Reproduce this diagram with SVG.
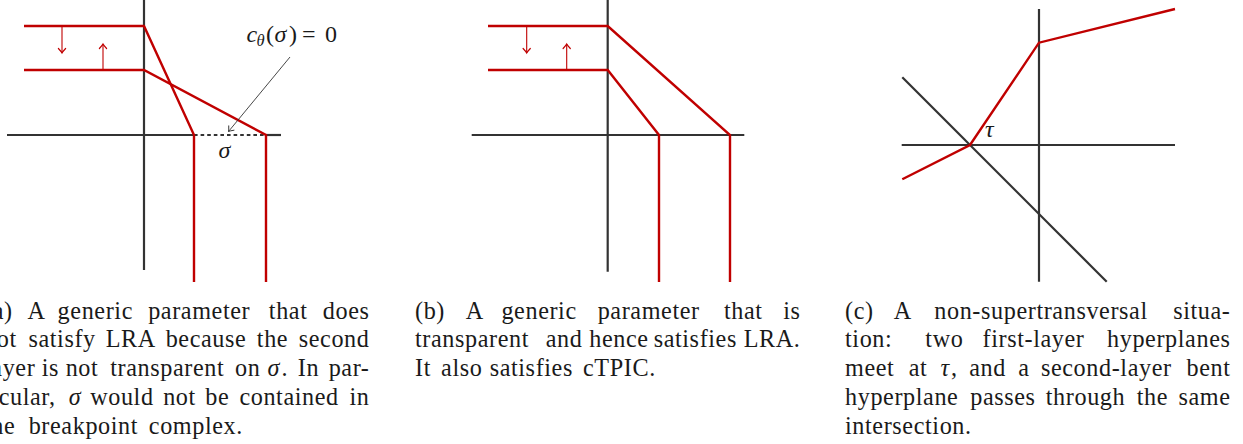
<svg xmlns="http://www.w3.org/2000/svg" width="1243" height="444" viewBox="0 0 1243 444">
<style>
.ax{stroke:#333;stroke-width:2.2;fill:none}
.rd{stroke:#c00000;stroke-width:2.4;fill:none;stroke-linejoin:miter}
.ra{stroke:#c00000;stroke-width:1.1;fill:none}
.cap{font-size:24.2px;letter-spacing:0.6px;fill:#1a1a1a}
.m{font-size:24px;fill:#1a1a1a}
.i{font-style:italic}
.c{text-anchor:middle}
.e{text-anchor:end}
</style>
<defs>
<marker id="hr" markerUnits="userSpaceOnUse" markerWidth="12" markerHeight="12" refX="0" refY="0" viewBox="-6 -6 12 12" orient="auto" overflow="visible">
<path d="M -4.5,-3.6 Q -1.6,-0.9 0,0 Q -1.6,0.9 -4.5,3.6" stroke="#c00000" stroke-width="1.2" fill="none" stroke-linecap="round"/>
</marker>
<marker id="hk" markerUnits="userSpaceOnUse" markerWidth="12" markerHeight="12" refX="0" refY="0" viewBox="-6 -6 12 12" orient="auto" overflow="visible">
<path d="M -4.5,-3.4 Q -1.6,-0.8 0,0 Q -1.6,0.8 -4.5,3.4" stroke="#333" stroke-width="0.9" fill="none" stroke-linecap="round"/>
</marker>
</defs>

<g font-family="Liberation Serif, DejaVu Serif, serif">
<g id="panel-a">
<line class="ax" x1="144" y1="0" x2="144" y2="270"/>
<line class="ax" x1="7" y1="135" x2="194" y2="135"/>
<line class="ax" x1="266" y1="135" x2="281" y2="135"/>
<line x1="194" y1="135" x2="266" y2="135" stroke="#333" stroke-width="2.2" stroke-dasharray="3.6 3"/>
<polyline class="rd" points="24,26 144,26 194,135 194,282"/>
<polyline class="rd" points="24,70 144,70 266,135 266,282"/>
<line class="ra" x1="62" y1="26" x2="62" y2="53" marker-end="url(#hr)"/>
<line class="ra" x1="103" y1="70" x2="103" y2="44" marker-end="url(#hr)"/>
<line x1="290" y1="57" x2="228.5" y2="131.5" stroke="#333" stroke-width="0.9" marker-end="url(#hk)"/>
<text class="m" y="42"><tspan class="i" x="246.5">c</tspan><tspan class="i" x="256.5" y="46" font-size="16.5">θ</tspan><tspan x="266" y="42">(</tspan><tspan class="i" x="274.5">σ</tspan><tspan x="289">)</tspan><tspan x="302">=</tspan><tspan x="325">0</tspan></text>
<text class="m i" x="218.5" y="158">σ</text>
</g>

<g id="panel-b">
<line class="ax" x1="607.7" y1="0" x2="607.7" y2="271.7"/>
<line class="ax" x1="471.7" y1="135" x2="744.3" y2="135"/>
<polyline class="rd" points="488,26 607.7,26 730,135 730,282"/>
<polyline class="rd" points="488,70 607.7,70 659,135 659,282"/>
<line class="ra" x1="526.7" y1="26" x2="526.7" y2="53" marker-end="url(#hr)"/>
<line class="ra" x1="566.7" y1="70" x2="566.7" y2="44" marker-end="url(#hr)"/>
</g>

<g id="panel-c">
<line class="ax" x1="1039" y1="9" x2="1039" y2="281.7"/>
<line class="ax" x1="901.7" y1="145" x2="1175" y2="145"/>
<line class="ax" x1="902.3" y1="77.3" x2="1106.7" y2="281.7"/>
<polyline class="rd" points="902.3,179.3 970,145 1039,42.7 1175,9"/>
<text class="m i" x="985" y="137">τ</text>
</g>

<g id="caption-a">
<text class="cap" y="318.5"><tspan x="-16">(a)</tspan><tspan class="c" x="36.6">A</tspan><tspan class="c" x="95.3">generic</tspan><tspan class="c" x="199.2">parameter</tspan><tspan class="c" x="288.2">that</tspan><tspan class="e" x="369.5">does</tspan></text>
<text class="cap" y="347.3"><tspan x="-16">not</tspan><tspan class="c" x="62.1">satisfy</tspan><tspan class="c" x="130.8">LRA</tspan><tspan class="c" x="206">because</tspan><tspan class="c" x="272.5">the</tspan><tspan class="e" x="369.5">second</tspan></text>
<text class="cap" y="376.1"><tspan x="-16">layer</tspan><tspan class="c" x="50.3">is</tspan><tspan class="c" x="82">not</tspan><tspan class="c" x="167.3">transparent</tspan><tspan class="c" x="247.8">on</tspan><tspan x="267.5" class="i">σ</tspan><tspan x="281.5">.</tspan><tspan class="c" x="308.5">In</tspan><tspan class="e" x="369.5">par-</tspan></text>
<text class="cap" y="404.9"><tspan x="-16">ticular,</tspan><tspan x="75" class="i c">σ</tspan><tspan class="c" x="121.9">would</tspan><tspan class="c" x="179.5">not</tspan><tspan class="c" x="217.3">be</tspan><tspan class="c" x="289.1">contained</tspan><tspan class="e" x="369.5">in</tspan></text>
<text class="cap" y="433.7"><tspan x="-16">the</tspan><tspan class="c" x="83.4">breakpoint</tspan><tspan class="c" x="195.9">complex.</tspan></text>
</g>

<g id="caption-b">
<text class="cap" y="318.5"><tspan x="415">(b)</tspan><tspan class="c" x="474.7">A</tspan><tspan class="c" x="539.1">generic</tspan><tspan class="c" x="648.7">parameter</tspan><tspan class="c" x="743.3">that</tspan><tspan class="e" x="800.5">is</tspan></text>
<text class="cap" y="347.3"><tspan x="415">transparent</tspan><tspan class="c" x="564">and</tspan><tspan class="c" x="619">hence</tspan><tspan class="c" x="695.3">satisfies</tspan><tspan class="e" x="800.5">LRA.</tspan></text>
<text class="cap" y="376.1"><tspan x="415">It</tspan><tspan class="c" x="461.8">also</tspan><tspan class="c" x="531.3">satisfies</tspan><tspan class="c" x="619.4">cTPIC.</tspan></text>
</g>

<g id="caption-c">
<text class="cap" y="318.5"><tspan x="845">(c)</tspan><tspan class="c" x="902.7">A</tspan><tspan class="c" x="1041">non-supertransversal</tspan><tspan class="e" x="1230.5">situa-</tspan></text>
<text class="cap" y="347.3"><tspan x="845">tion:</tspan><tspan class="c" x="944.4">two</tspan><tspan class="c" x="1033.5">first-layer</tspan><tspan class="e" x="1230.5">hyperplanes</tspan></text>
<text class="cap" y="376.1"><tspan x="845">meet</tspan><tspan class="c" x="918">at</tspan><tspan x="940.5" class="i">τ</tspan><tspan x="951">,</tspan><tspan class="c" x="987.5">and</tspan><tspan class="c" x="1024">a</tspan><tspan class="c" x="1106.3">second-layer</tspan><tspan class="e" x="1230.5">bent</tspan></text>
<text class="cap" y="404.9"><tspan x="845">hyperplane</tspan><tspan class="c" x="1002.9">passes</tspan><tspan class="c" x="1085.5">through</tspan><tspan class="c" x="1152.4">the</tspan><tspan class="e" x="1230.5">same</tspan></text>
<text class="cap" y="433.7"><tspan x="845">intersection.</tspan></text>
</g>
</g>
</svg>
